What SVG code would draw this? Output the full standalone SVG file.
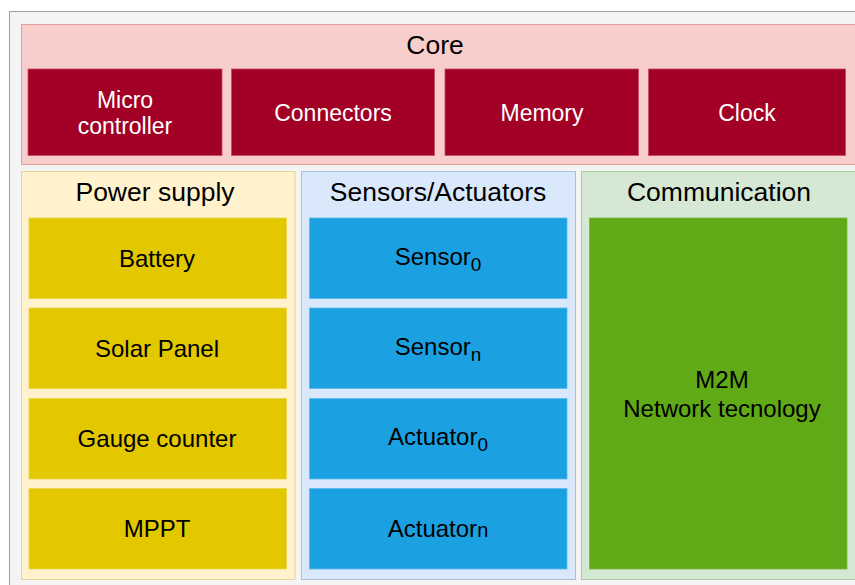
<svg xmlns="http://www.w3.org/2000/svg" width="855" height="585" viewBox="0 0 855 585">
  <style>
    text { font-family: "Liberation Sans", Arial, sans-serif; text-anchor: middle; }
    .title { font-size: 26.5px; fill: #000; }
    .lbl { font-size: 23px; }
    .lbl2 { font-size: 24px; }
    .w { fill: #ffffff; }
    .k { fill: #000000; }
    .core { fill: #f8cecc; stroke: #e0a09e; stroke-width: 1; }
    .core-item { fill: #a20025; stroke: #c64b62; stroke-width: 0.8; }
    .pw { fill: #fff2cc; stroke: #e6d29a; stroke-width: 1; }
    .pw-item { fill: #e3c800; stroke: #e8d44a; stroke-width: 0.8; }
    .se { fill: #dae8fc; stroke: #a9bedb; stroke-width: 1; }
    .se-item { fill: #1ba1e2; stroke: #5bb8ea; stroke-width: 0.8; }
    .cm { fill: #d5e8d4; stroke: #a9c99e; stroke-width: 1; }
    .cm-item { fill: #60a917; stroke: #7bb745; stroke-width: 0.8; }
    .sub { font-size: 19px; }
  </style>

  <rect width="855" height="585" fill="#ffffff"/>
  <!-- outer frame -->
  <rect x="9.5" y="11.5" width="860" height="590" fill="#f4f4f4" stroke="#a0a0a0" stroke-width="1"/>

  <!-- Core -->
  <g id="core">
    <rect class="core" x="21.5" y="24.5" width="840" height="140"/>
    <text class="title" x="435" y="54">Core</text>
  </g>
  <g id="microcontroller">
    <rect class="core-item" x="28" y="69" width="194" height="86.5"/>
    <text class="lbl w" x="125" y="108">Micro</text>
    <text class="lbl w" x="125" y="134">controller</text>
  </g>
  <g id="connectors">
    <rect class="core-item" x="231.5" y="69" width="203" height="86.5"/>
    <text class="lbl w" x="333" y="121">Connectors</text>
  </g>
  <g id="memory">
    <rect class="core-item" x="445" y="69" width="193.5" height="86.5"/>
    <text class="lbl w" x="542" y="121">Memory</text>
  </g>
  <g id="clock">
    <rect class="core-item" x="648.5" y="69" width="197" height="86.5"/>
    <text class="lbl w" x="747" y="121">Clock</text>
  </g>

  <!-- Power supply -->
  <g id="power-supply">
    <rect class="pw" x="21.5" y="171.5" width="273.5" height="408"/>
    <text class="title" x="155" y="201">Power supply</text>
  </g>
  <g id="battery">
    <rect class="pw-item" x="29" y="218" width="257.5" height="80.5"/>
    <text class="lbl2 k" x="157" y="267">Battery</text>
  </g>
  <g id="solar-panel">
    <rect class="pw-item" x="29" y="308" width="257.5" height="80.5"/>
    <text class="lbl2 k" x="157" y="357">Solar Panel</text>
  </g>
  <g id="gauge-counter">
    <rect class="pw-item" x="29" y="398.5" width="257.5" height="80.5"/>
    <text class="lbl2 k" x="157" y="447">Gauge counter</text>
  </g>
  <g id="mppt">
    <rect class="pw-item" x="29" y="488.5" width="257.5" height="80.5"/>
    <text class="lbl2 k" x="157" y="537">MPPT</text>
  </g>

  <!-- Sensors/Actuators -->
  <g id="sensors-actuators">
    <rect class="se" x="301.5" y="171.5" width="274" height="408"/>
    <text class="title" x="438" y="201">Sensors/Actuators</text>
  </g>
  <g id="sensor0">
    <rect class="se-item" x="309.5" y="218" width="257.5" height="80.5"/>
    <text class="lbl2 k" x="438" y="265">Sensor<tspan class="sub" dy="6">0</tspan></text>
  </g>
  <g id="sensorn">
    <rect class="se-item" x="309.5" y="308" width="257.5" height="80.5"/>
    <text class="lbl2 k" x="438" y="355">Sensor<tspan class="sub" dy="6">n</tspan></text>
  </g>
  <g id="actuator0">
    <rect class="se-item" x="309.5" y="398.5" width="257.5" height="80.5"/>
    <text class="lbl2 k" x="438" y="445">Actuator<tspan class="sub" dy="6">0</tspan></text>
  </g>
  <g id="actuatorn">
    <rect class="se-item" x="309.5" y="488.5" width="257.5" height="80.5"/>
    <text class="lbl2 k" x="438" y="537">Actuator<tspan font-size="20">n</tspan></text>
  </g>

  <!-- Communication -->
  <g id="communication">
    <rect class="cm" x="581.5" y="171.5" width="280" height="408"/>
    <text class="title" x="719" y="201">Communication</text>
  </g>
  <g id="m2m">
    <rect class="cm-item" x="589.5" y="218" width="257.5" height="351"/>
    <text class="lbl2 k" x="722" y="388">M2M</text>
    <text class="lbl2 k" x="722" y="417">Network tecnology</text>
  </g>

  <!-- no connectors in this diagram -->
  <g id="edges"/>
</svg>
